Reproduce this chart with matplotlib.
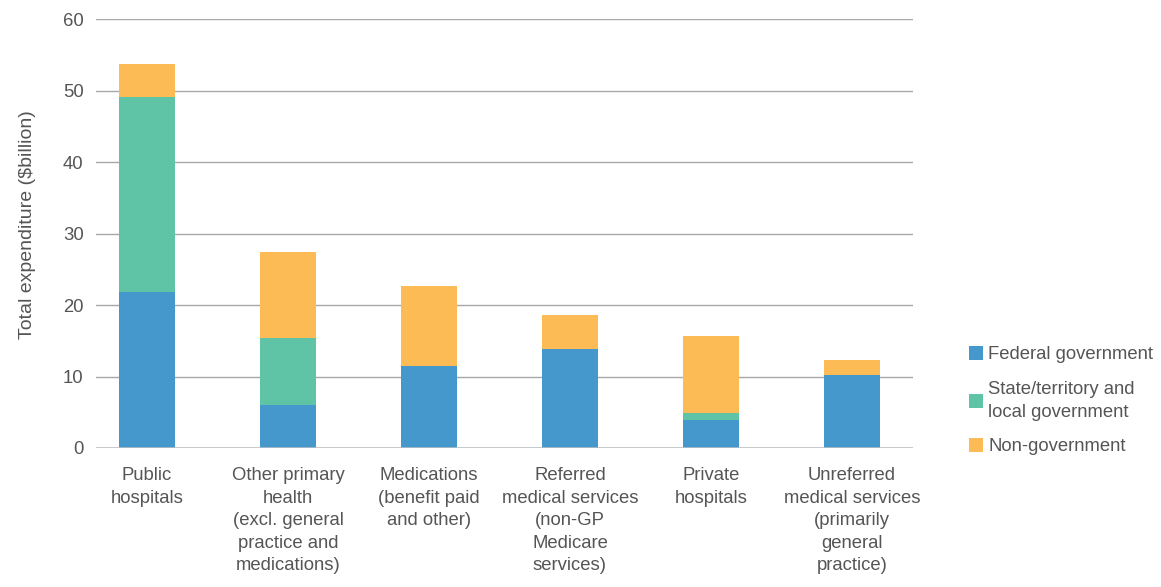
import matplotlib.pyplot as plt
import numpy as np

plt.rcParams['font.family'] = ['Liberation Sans', 'DejaVu Sans']

categories = ["Public\nhospitals",
              "Other primary\nhealth\n(excl. general\npractice and\nmedications)",
              "Medications\n(benefit paid\nand other)",
              "Referred\nmedical services\n(non-GP\nMedicare\nservices)",
              "Private\nhospitals",
              "Unreferred\nmedical services\n(primarily\ngeneral\npractice)"]
federal = [21.8, 6.0, 11.4, 13.8, 3.9, 10.25]
state = [27.3, 9.4, 0.0, 0.0, 0.95, 0.0]
non_gov = [4.6, 12.0, 11.3, 4.8, 10.85, 2.05]

c_fed = "#4598cb"
c_state = "#5fc4a6"
c_non = "#fdbb55"
txt = "#555555"
fs = 13.3

fig = plt.figure(figsize=(11.61, 5.87), dpi=100)
ax = fig.add_axes([0.0827, 0.2368, 0.7037, 0.7308])

x = np.arange(len(categories))
w = 0.4
fed = np.array(federal)
st = np.array(state)
ng = np.array(non_gov)
ax.bar(x, fed, w, color=c_fed, label="Federal government", zorder=3)
ax.bar(x, st, w, bottom=fed, color=c_state, label="State/territory and\nlocal government", zorder=3)
ax.bar(x, ng, w, bottom=fed + st, color=c_non, label="Non-government", zorder=3)

ax.set_ylim(0, 60)
ax.set_xlim(-0.362, 5.433)
ax.set_yticks(range(0, 61, 10))
ax.yaxis.grid(True, color="#a8a8a8", linewidth=1, zorder=0)
ax.axhline(0, color="#bcc0c4", linewidth=1.8, zorder=4)
for s in ax.spines.values():
    s.set_visible(False)
ax.tick_params(axis="y", length=0, labelsize=fs, labelcolor=txt, pad=9)
ax.set_xticks(x)
ax.set_xticklabels(categories, fontsize=fs, color=txt, linespacing=1.42)
ax.tick_params(axis="x", length=0, pad=14)
ax.set_ylabel("Total expenditure ($billion)", fontsize=14, color=txt, labelpad=19, y=0.52)

leg = fig.legend(loc="center left", bbox_to_anchor=(0.8205, 0.317), frameon=False,
                 fontsize=fs, labelcolor=txt, handlelength=0.72, handleheight=0.72,
                 handletextpad=0.3, labelspacing=0.95)
for t in leg.get_texts():
    t.set_linespacing(1.45)

fig.savefig("out.png", dpi=100)
